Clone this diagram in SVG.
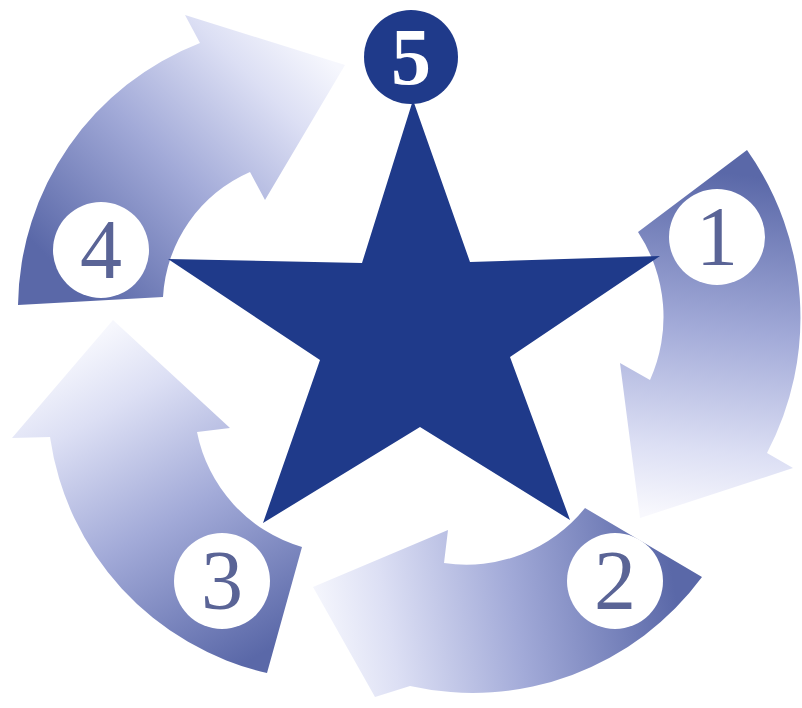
<svg xmlns="http://www.w3.org/2000/svg" width="802" height="708" viewBox="0 0 802 708">
  <style>
    .arrow { stroke: none; }
    .badge { fill: #ffffff; }
    .num { font-family: "Liberation Serif", "Times New Roman", serif; font-size: 84px; fill: #5a6496; text-anchor: middle; }
    .num5 { font-family: "Liberation Serif", "Times New Roman", serif; font-size: 80px; font-weight: bold; fill: #ffffff; text-anchor: middle; }
    .star { fill: #1f3a8a; }
  </style>
  <defs>
    <linearGradient id="g4" gradientUnits="userSpaceOnUse" x1="90" y1="300" x2="330" y2="60">
      <stop offset="0" stop-color="#5a68a8"/>
      <stop offset="0.45" stop-color="#a2aad8"/>
      <stop offset="0.8" stop-color="#dcdff4"/>
      <stop offset="1" stop-color="#f6f7fd"/>
    </linearGradient>
    <linearGradient id="g1" gradientUnits="userSpaceOnUse" x1="700" y1="170" x2="660" y2="515">
      <stop offset="0" stop-color="#5a68a8"/>
      <stop offset="0.45" stop-color="#a2aad8"/>
      <stop offset="0.8" stop-color="#dcdff4"/>
      <stop offset="1" stop-color="#f8f8fd"/>
    </linearGradient>
    <linearGradient id="g2" gradientUnits="userSpaceOnUse" x1="670" y1="560" x2="315" y2="620">
      <stop offset="0" stop-color="#5a68a8"/>
      <stop offset="0.45" stop-color="#a2aad8"/>
      <stop offset="0.8" stop-color="#dcdff4"/>
      <stop offset="1" stop-color="#f6f7fd"/>
    </linearGradient>
    <linearGradient id="g3" gradientUnits="userSpaceOnUse" x1="285" y1="640" x2="105" y2="330">
      <stop offset="0" stop-color="#5a68a8"/>
      <stop offset="0.45" stop-color="#a2aad8"/>
      <stop offset="0.8" stop-color="#dcdff4"/>
      <stop offset="1" stop-color="#f6f7fd"/>
    </linearGradient>
  </defs>

  <g id="connectors">
    <path id="arrow-4" class="arrow" fill="url(#g4)" d="M 18,305 A 285 285 0 0 1 200,43 L 185,15 L 345,65 L 265,200 L 250,172 A 145 145 0 0 0 163,297 Z"/>
    <path id="arrow-1" class="arrow" fill="url(#g1)" d="M 747,150 A 290 290 0 0 1 767,453 L 793,468 L 640,518 L 620,363 L 650,380 A 154 154 0 0 0 638,232 Z"/>
    <path id="arrow-2" class="arrow" fill="url(#g2)" d="M 702,577 A 285 285 0 0 1 410,686 L 375,697 L 313,587 L 448,530 L 444,563 A 152 152 0 0 0 585,508 Z"/>
    <path id="arrow-3" class="arrow" fill="url(#g3)" d="M 267,673 A 283 283 0 0 1 50,437 L 12,438 L 113,320 L 230,428 L 197,432 A 150 150 0 0 0 302,547 Z"/>
  </g>

  <g id="star">
    <polygon class="star" points="413,100 470,262 660,256 510,357 570,520 420,427 263,523 320,360 168,259 362,263"/>
  </g>

  <g id="node-5">
    <circle cx="411" cy="57" r="47" class="star"/>
    <text x="411" y="84" class="num5">5</text>
  </g>
  <g id="node-1">
    <circle cx="717" cy="237" r="48" class="badge"/>
    <text x="717" y="265" class="num">1</text>
  </g>
  <g id="node-2">
    <circle cx="615" cy="581" r="48" class="badge"/>
    <text x="615" y="609" class="num">2</text>
  </g>
  <g id="node-3">
    <circle cx="222" cy="581" r="48" class="badge"/>
    <text x="222" y="609" class="num">3</text>
  </g>
  <g id="node-4">
    <circle cx="101" cy="250" r="48" class="badge"/>
    <text x="101" y="278" class="num">4</text>
  </g>
</svg>
